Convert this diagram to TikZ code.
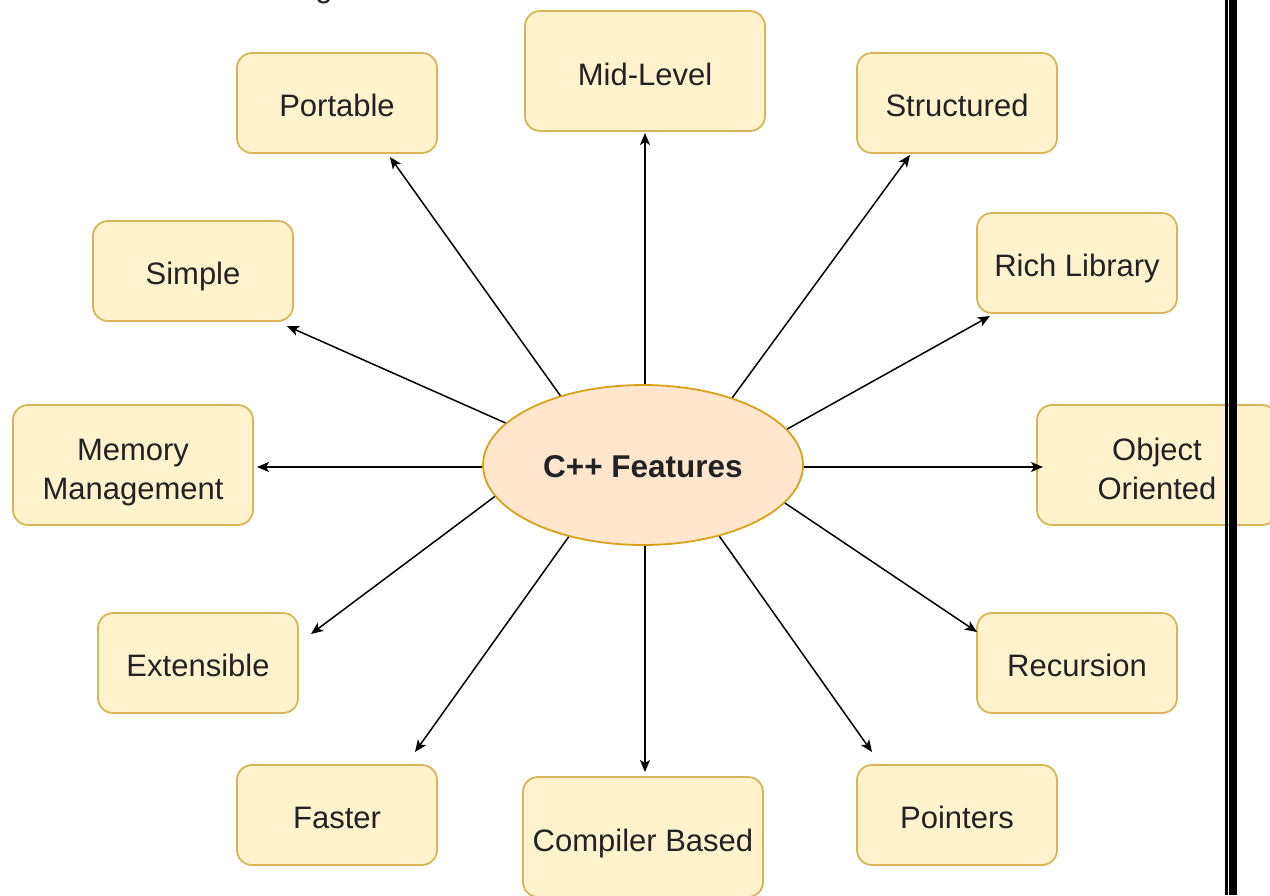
\documentclass[tikz,border=0pt]{standalone}
\usepackage{fontspec}
\setmainfont{Liberation Sans}
\usetikzlibrary{arrows.meta,shapes.geometric}
\definecolor{boxfill}{HTML}{FFF2CC}
\definecolor{boxline}{HTML}{D6B656}
\definecolor{hubfill}{HTML}{FFE6CC}
\definecolor{hubline}{HTML}{D7A21A}
\definecolor{txt}{HTML}{222222}
\tikzset{
  feature/.style={rectangle, rounded corners=15pt, draw=boxline, fill=boxfill,
    line width=1.8pt, minimum width=200pt, minimum height=100pt, inner sep=2pt,
    align=center, text=txt, font=\fontsize{31}{39}\selectfont,
    text height=26pt, text depth=0pt},
  wide/.style={minimum width=240pt, minimum height=120pt, text height=29pt},
  twoline/.style={text height=73pt, text depth=5pt},
  hub/.style={ellipse, draw=hubline, fill=hubfill, line width=1.8pt,
    minimum width=320pt, minimum height=160pt, inner sep=0pt,
    text=txt, font=\fontsize{31.5}{38}\selectfont\bfseries,
    text height=25pt, text depth=0pt},
  arr/.style={-{Stealth[length=12pt,width=10pt,inset=3pt]}, line width=1.5pt, black}
}
\begin{document}
\begin{tikzpicture}[x=1pt,y=-1pt]
\useasboundingbox (0,0) rectangle (1270,895);

% heading fragment above the diagram
\node[anchor=base, text=txt, font=\fontsize{31}{38}\selectfont, inner sep=0pt] (head) at (324,-2.5) {g};

% feature boxes
\node[feature] (portable) at (337,103) {Portable};
\node[feature,wide] (mid) at (645,71) {Mid-Level};
\node[feature] (structured) at (957,103) {Structured};
\node[feature] (simple) at (193,271) {Simple};
\node[feature] (rich) at (1077,263) {Rich Library};
\node[feature,wide,twoline] (memory) at (133,465) {Memory\\Management};
\node[feature,wide,twoline] (object) at (1157,465) {Object\\Oriented};
\node[feature] (extensible) at (198,663) {Extensible};
\node[feature] (recursion) at (1077,663) {Recursion};
\node[feature] (faster) at (337,815) {Faster};
\node[feature,wide] (compiler) at (643,837) {Compiler Based};
\node[feature] (pointers) at (957,815) {Pointers};

% central topic
\node[hub] (c) at (643,465) {C++ Features};

% arrow tips near each box
\coordinate (tPortable) at (390,157);
\coordinate (tMid) at (645,133);
\coordinate (tStructured) at (910,155);
\coordinate (tSimple) at (287,326);
\coordinate (tRich) at (990,316);
\coordinate (tMemory) at (257,467);
\coordinate (tObject) at (1043,467);
\coordinate (tExtensible) at (311,634);
\coordinate (tRecursion) at (977,632);
\coordinate (tFaster) at (415,752);
\coordinate (tCompiler) at (645,772);
\coordinate (tPointers) at (872,752);

% connectors
\draw[arr] (c.140.5) -- (tPortable);
\draw[arr] (c.north) ++(2,0) -- (tMid);
\draw[arr] (c.37.9) -- (tStructured);
\draw[arr] (c.163.1) -- (tSimple);
\draw[arr] (c.14.4) -- (tRich);
\draw[arr] (c.west) ++(0,2) -- (tMemory);
\draw[arr] (c.east) ++(0,2) -- (tObject);
\draw[arr] (c.192) -- (tExtensible);
\draw[arr] (c.-15.5) -- (tRecursion);
\draw[arr] (c.224.6) -- (tFaster);
\draw[arr] (c.south) ++(2,0) -- (tCompiler);
\draw[arr] (c.-43.8) -- (tPointers);

% page frame lines on the right
\fill[black] (1225,0) rectangle (1227.5,895);
\fill[black] (1229,0) rectangle (1237,895);
\end{tikzpicture}
\end{document}
